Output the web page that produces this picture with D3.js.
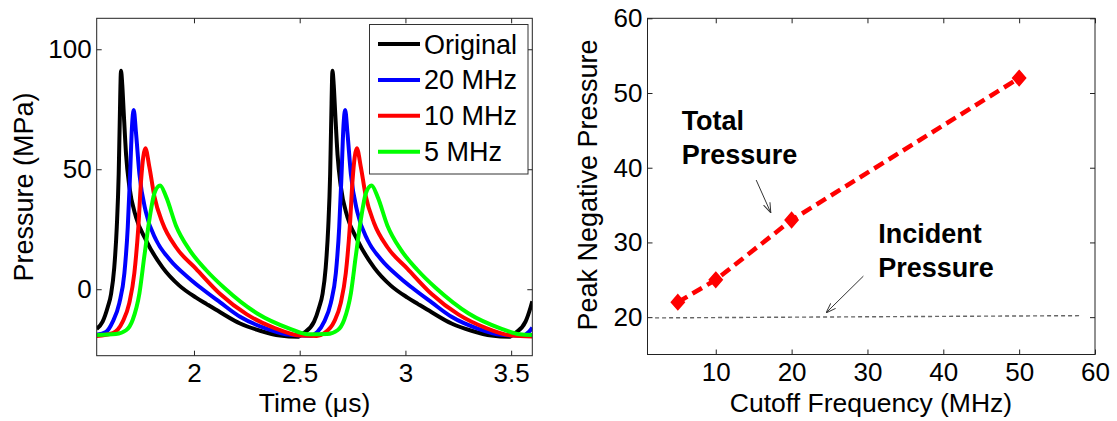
<!DOCTYPE html>
<html>
<head>
<meta charset="utf-8">
<script src="https://cdn.jsdelivr.net/npm/d3@7"></script>
<style>
  body { margin: 0; background: #fff; }
  svg { display: block; font-family: Arial, "Liberation Sans", sans-serif; }
</style>
</head>
<body>
<svg class="container"></svg>
<script>
// left panel: pressure waveforms, [time (us), pressure (MPa)]
const original = [
  [1.540, -16.5], [1.568, -13.5], [1.592, -7.5], [1.608, -2], [1.623, 9], [1.635, 26],
  [1.644, 48], [1.649, 70], [1.655, 91], [1.661, 85], [1.667, 75], [1.679, 56],
  [1.694, 43], [1.726, 30], [1.773, 20.5], [1.852, 9], [1.931, 1.5], [2.010, -3.5],
  [2.060, -6.2], [2.124, -9.6], [2.218, -14.3], [2.313, -17.3], [2.407, -19.3], [2.490, -19.8],
  [2.518, -18.3], [2.568, -13.5], [2.592, -7.5], [2.608, -2], [2.623, 9], [2.635, 26],
  [2.644, 48], [2.649, 70], [2.655, 91], [2.661, 85], [2.667, 75], [2.679, 56],
  [2.694, 43], [2.726, 30], [2.773, 20.5], [2.852, 9], [2.931, 1.5], [3.010, -3.5],
  [3.060, -6.2], [3.124, -9.6], [3.218, -14.3], [3.313, -17.3], [3.407, -19.3], [3.490, -19.8],
  [3.518, -18.3], [3.568, -13.5], [3.592, -7.5], [3.600, -5]
];
const mhz20 = [
  [1.540, -19], [1.584, -17.8], [1.616, -13.5], [1.647, -5.8], [1.671, 6.7], [1.687, 26],
  [1.698, 48], [1.707, 68], [1.715, 74.7], [1.726, 65], [1.742, 48], [1.773, 32],
  [1.821, 20.5], [1.884, 12.5], [1.978, 4.5], [2.029, 0.8], [2.124, -5.5], [2.218, -11.5],
  [2.345, -16.5], [2.455, -19], [2.549, -19.4],
  [2.584, -17.8], [2.616, -13.5], [2.647, -5.8], [2.671, 6.7], [2.687, 26],
  [2.698, 48], [2.707, 68], [2.715, 74.7], [2.726, 65], [2.742, 48], [2.773, 32],
  [2.821, 20.5], [2.884, 12.5], [2.978, 4.5], [3.029, 0.8], [3.124, -5.5], [3.218, -11.5],
  [3.345, -16.5], [3.455, -19], [3.549, -19.4], [3.584, -17.8], [3.600, -16]
];
const mhz10 = [
  [1.540, -19.5], [1.616, -18.3], [1.663, -13.5], [1.694, -5.8], [1.718, 6.7], [1.737, 26],
  [1.750, 45.5], [1.770, 58.7], [1.789, 51], [1.813, 38.6], [1.852, 27.5], [1.915, 17.5],
  [2.010, 8.5], [2.124, -2], [2.250, -10.5], [2.376, -16], [2.502, -19.3], [2.581, -19.5],
  [2.616, -18.3], [2.663, -13.5], [2.694, -5.8], [2.718, 6.7], [2.737, 26],
  [2.750, 45.5], [2.770, 58.7], [2.789, 51], [2.813, 38.6], [2.852, 27.5], [2.915, 17.5],
  [3.010, 8.5], [3.124, -2], [3.250, -10.5], [3.376, -16], [3.502, -19.3], [3.600, -19.7]
];
const mhz5 = [
  [1.540, -19.1], [1.631, -18.7], [1.679, -17.1], [1.710, -12.8], [1.742, -1.7], [1.765, 13.6],
  [1.789, 28.9], [1.813, 40], [1.840, 43.2], [1.868, 38.6], [1.915, 26.5], [1.978, 16.5],
  [2.057, 8], [2.144, 0.5], [2.297, -10], [2.455, -16.5], [2.540, -18.8],
  [2.631, -18.7], [2.679, -17.1], [2.710, -12.8], [2.742, -1.7], [2.765, 13.6],
  [2.789, 28.9], [2.813, 40], [2.840, 43.2], [2.868, 38.6], [2.915, 26.5], [2.978, 16.5],
  [3.057, 8], [3.144, 0.5], [3.297, -10], [3.455, -16.5], [3.540, -18.8], [3.600, -19.1]
];
const legendLabels = ["Original", "20 MHz", "10 MHz", "5 MHz"];
const timeTicks = [2, 2.5, 3, 3.5];
const pressureTicks = [0, 50, 100];

// right panel: peak negative pressure vs cutoff frequency
const cutoffFreq = [5, 10, 20, 50];
const peakTotal = [22, 25, 33, 52];
const incidentFreq = [2, 58];
const incidentPeak = [19.9, 20.2];
const freqTicks = [10, 20, 30, 40, 50, 60];
const peakTicks = [20, 30, 40, 50, 60];

const width = 1117;
const height = 421;
const font = "Arial, 'Liberation Sans', sans-serif";
const axisColor = "#222";

const svg = d3.select(".container").attr("width", width).attr("height", height);

svg.append("defs").append("clipPath").attr("id", "clipLeft")
  .append("rect").attr("x", 96.7).attr("y", 18.3).attr("width", 435.6).attr("height", 337.4);

const marker = svg.select("defs").append("marker")
  .attr("id", "arrow")
  .attr("viewBox", "0 0 10 10")
  .attr("refX", 10).attr("refY", 5)
  .attr("markerWidth", 10).attr("markerHeight", 10)
  .attr("markerUnits", "userSpaceOnUse")
  .attr("orient", "auto");
marker.append("path").attr("d", "M0,1.5 L10,5 L0,8.5")
  .attr("fill", "none").attr("stroke", "#333").attr("stroke-width", 1);

function drawFrame(x, y, xTicks, yTicks, xFmt, yFmt) {
  const [x0, x1] = x.range();
  const [y0, y1] = y.range();
  const styleAxis = (g) => {
    g.select(".domain").remove();
    g.selectAll("line").attr("stroke", axisColor);
    g.attr("font-size", 26).attr("font-family", font);
    g.selectAll("text").attr("fill", "#000");
  };
  svg.append("g").attr("transform", `translate(0,${y0})`)
    .call(d3.axisBottom(x).tickValues(xTicks).tickFormat(xFmt).tickSizeInner(-5).tickSizeOuter(0).tickPadding(8))
    .call(styleAxis);
  svg.append("g").attr("transform", `translate(0,${y1})`)
    .call(d3.axisTop(x).tickValues(xTicks).tickFormat("").tickSizeInner(-5).tickSizeOuter(0))
    .call(styleAxis);
  svg.append("g").attr("transform", `translate(${x0},0)`)
    .call(d3.axisLeft(y).tickValues(yTicks).tickFormat(yFmt).tickSizeInner(-5).tickSizeOuter(0).tickPadding(5))
    .call(styleAxis);
  svg.append("g").attr("transform", `translate(${x1},0)`)
    .call(d3.axisRight(y).tickValues(yTicks).tickFormat("").tickSizeInner(-5).tickSizeOuter(0))
    .call(styleAxis);
  svg.append("rect")
    .attr("x", x0).attr("y", y1)
    .attr("width", x1 - x0).attr("height", y0 - y1)
    .attr("fill", "none").attr("stroke", axisColor).attr("stroke-width", 1);
}

// ---------- left panel ----------
const xTime = d3.scaleLinear().domain([1.54, 3.6]).range([96.7, 532.3]);
const yPress = d3.scaleLinear().domain([-27.7, 112.9]).range([355.7, 18.3]);

const series = [
  { name: legendLabels[0], data: original, color: "#000000" },
  { name: legendLabels[1], data: mhz20, color: "#0000ff" },
  { name: legendLabels[2], data: mhz10, color: "#ff0000" },
  { name: legendLabels[3], data: mhz5, color: "#00ff00" }
];

const waveLine = d3.line()
  .x((d) => xTime(d[0]))
  .y((d) => yPress(d[1]))
  .curve(d3.curveMonotoneX);

svg.append("g").attr("clip-path", "url(#clipLeft)")
  .selectAll("path")
  .data(series)
  .enter()
  .append("path")
  .attr("d", (d) => waveLine(d.data))
  .attr("fill", "none")
  .attr("stroke", (d) => d.color)
  .attr("stroke-width", 4)
  .attr("stroke-linejoin", "round");

drawFrame(xTime, yPress, timeTicks, pressureTicks, d3.format(""), d3.format("d"));

// legend
const legend = svg.append("g");
legend.append("rect")
  .attr("x", 369.5).attr("y", 24.5).attr("width", 158.5).attr("height", 149.5)
  .attr("fill", "#fff").attr("stroke", "#333").attr("stroke-width", 1);
const rows = legend.selectAll(".row").data(series).enter().append("g")
  .attr("transform", (d, i) => `translate(0,${44 + i * 35.9})`);
rows.append("line")
  .attr("x1", 378).attr("x2", 420).attr("y1", 0).attr("y2", 0)
  .attr("stroke", (d) => d.color).attr("stroke-width", 4);
rows.append("text")
  .attr("x", 424).attr("y", 9.5)
  .attr("font-size", 27).attr("font-family", font)
  .text((d) => d.name);

svg.append("text")
  .attr("x", 314.5).attr("y", 412)
  .attr("text-anchor", "middle").attr("font-size", 26.5).attr("font-family", font)
  .text("Time (μs)");
svg.append("text")
  .attr("transform", "translate(33,187) rotate(-90)")
  .attr("text-anchor", "middle").attr("font-size", 27).attr("font-family", font)
  .text("Pressure (MPa)");

// ---------- right panel ----------
const xFreq = d3.scaleLinear().domain([1, 60]).range([647.5, 1095]);
const yPeak = d3.scaleLinear().domain([15, 60]).range([354.5, 18.3]);

drawFrame(xFreq, yPeak, freqTicks, peakTicks, d3.format("d"), d3.format("d"));

const incidentLine = d3.line()
  .x((d, i) => xFreq(incidentFreq[i]))
  .y((d) => yPeak(d));
svg.append("path")
  .attr("d", incidentLine(incidentPeak))
  .attr("fill", "none")
  .attr("stroke", "#666")
  .attr("stroke-width", 1.4)
  .attr("stroke-dasharray", "4,3");

const totalLine = d3.line()
  .x((d, i) => xFreq(cutoffFreq[i]))
  .y((d) => yPeak(d));
svg.append("path")
  .attr("d", totalLine(peakTotal))
  .attr("fill", "none")
  .attr("stroke", "#ff0000")
  .attr("stroke-width", 4.5)
  .attr("stroke-dasharray", "11,6");

svg.selectAll(".diamond")
  .data(peakTotal)
  .enter()
  .append("path")
  .attr("class", "diamond")
  .attr("transform", (d, i) => `translate(${xFreq(cutoffFreq[i])},${yPeak(d)})`)
  .attr("d", "M0,-7.5 L6.5,0 L0,7.5 L-6.5,0 Z")
  .attr("fill", "#ff0000")
  .attr("stroke", "#ff0000")
  .attr("stroke-width", 1.5);

// annotations (data coordinates)
const notes = [
  { lines: ["Total", "Pressure"], x: 5.5, y: [45.04, 40.45] },
  { lines: ["Incident", "Pressure"], x: 31.43, y: [29.95, 25.31] }
];
notes.forEach((n) => {
  n.lines.forEach((t, i) => {
    svg.append("text")
      .attr("x", xFreq(n.x)).attr("y", yPeak(n.y[i]))
      .attr("font-size", 27).attr("font-weight", "bold").attr("font-family", font)
      .text(t);
  });
});
const arrows = [
  { from: [15.33, 38.35], to: [17.26, 33.96] },
  { from: [29.46, 25.49], to: [24.54, 20.57] }
];
svg.selectAll(".arrow")
  .data(arrows)
  .enter()
  .append("line")
  .attr("class", "arrow")
  .attr("x1", (d) => xFreq(d.from[0])).attr("y1", (d) => yPeak(d.from[1]))
  .attr("x2", (d) => xFreq(d.to[0])).attr("y2", (d) => yPeak(d.to[1]))
  .attr("stroke", "#333").attr("stroke-width", 1)
  .attr("marker-end", "url(#arrow)");

svg.append("text")
  .attr("x", 871).attr("y", 412)
  .attr("text-anchor", "middle").attr("font-size", 26.5).attr("font-family", font)
  .text("Cutoff Frequency (MHz)");
svg.append("text")
  .attr("transform", "translate(597,185) rotate(-90)")
  .attr("text-anchor", "middle").attr("font-size", 27).attr("font-family", font)
  .text("Peak Negative Pressure");
</script>
</body>
</html>
